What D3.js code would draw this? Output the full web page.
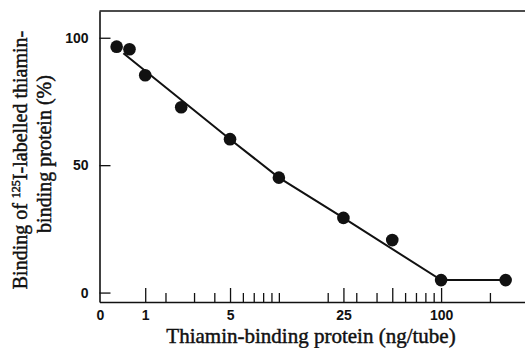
<!DOCTYPE html>
<html>
<head>
<meta charset="utf-8">
<script src="https://cdn.jsdelivr.net/npm/d3@7"></script>
<style>
  body { margin: 0; background: #fff; }
  svg { display: block; }
  .tick text { font-family: "Liberation Sans", Arial, sans-serif; font-weight: bold; font-size: 14px; fill: #111; }
  .title { font-family: "Liberation Serif", "Times New Roman", serif; fill: #111; stroke: #111; stroke-width: 0.45px; }
</style>
</head>
<body>
<svg id="chart" width="525" height="348"></svg>
<script>
// Standard curve: binding of 125I-labelled thiamin-binding protein vs. amount of protein
const doses   = [1.0, 1.2, 1.5, 2.5, 5, 10, 25, 50, 100, 250];          // ng/tube
const binding = [96.5, 95.5, 85.3, 72.7, 60.2, 45.1, 29.3, 20.6, 4.9, 4.9]; // %

// Drawn curve through the points
const fitDoses   = [1.1, 5, 10, 25, 100, 250];
const fitBinding = [93.9, 60.2, 45.1, 29.3, 4.9, 4.9];

// Axis ticks
const yTicks = [0, 50, 100];
const xOriginLabel = "0";
const xLabelValues = [1.5, 5, 25, 100];
const xLabelText = ["1", "5", "25", "100"];
const xMajorTicks = [1.5, 5, 25, 50, 100];
const xMinorTicks = [2, 3, 4, 6, 7, 8, 9, 10, 20, 30, 40, 60, 70, 80, 90, 200];

const svg = d3.select("#chart");
const frame = { left: 99.5, right: 525, top: 11, bottom: 302 };

const x = d3.scaleLog().domain([0.784, 329]).range([frame.left, frame.right]);
const y = d3.scaleLinear().domain([-3.7, 110.5]).range([frame.bottom, frame.top]);

// top border
svg.append("line")
  .attr("x1", frame.left).attr("x2", frame.right)
  .attr("y1", frame.top).attr("y2", frame.top)
  .attr("stroke", "#111").attr("stroke-width", 1.6);

// x axis: minor ticks first (no labels), then labelled/major ticks
const gxMinor = svg.append("g")
  .attr("transform", `translate(0,${frame.bottom})`)
  .call(d3.axisBottom(x).tickValues(xMinorTicks).tickSizeInner(-9).tickSizeOuter(0).tickFormat(() => ""));
gxMinor.select(".domain").remove();

const labelFor = d => {
  const i = xLabelValues.indexOf(d);
  return i >= 0 ? xLabelText[i] : "";
};
const gx = svg.append("g")
  .attr("transform", `translate(0,${frame.bottom})`)
  .call(d3.axisBottom(x).tickValues(xMajorTicks).tickSizeInner(-14).tickSizeOuter(0).tickPadding(8).tickFormat(labelFor));

// origin label at the left end of the x axis
gx.append("g").attr("class", "tick")
  .attr("transform", `translate(${x.range()[0] + 1},0)`)
  .append("text").attr("y", 8).attr("dy", "0.71em").attr("text-anchor", "middle").text(xOriginLabel);

// y axis
const gy = svg.append("g")
  .attr("transform", `translate(${frame.left},0)`)
  .call(d3.axisLeft(y).tickValues(yTicks).tickSizeInner(-11).tickSizeOuter(0).tickPadding(11).tickFormat(d3.format("d")));

svg.selectAll(".domain").attr("stroke", "#111").attr("stroke-width", 1.6);
svg.selectAll(".tick line").attr("stroke", "#111").attr("stroke-width", 1.3);

// curve
const line = d3.line().x(d => x(d[0])).y(d => y(d[1]));
svg.append("path")
  .datum(d3.zip(fitDoses, fitBinding))
  .attr("d", line)
  .attr("fill", "none").attr("stroke", "#111").attr("stroke-width", 2);

// data points
svg.append("g").selectAll("circle")
  .data(d3.zip(doses, binding))
  .join("circle")
  .attr("cx", d => x(d[0])).attr("cy", d => y(d[1]))
  .attr("r", 6.3).attr("fill", "#111");

// x axis title
svg.append("text").attr("class", "title")
  .attr("x", 311).attr("y", 342.5)
  .attr("text-anchor", "middle")
  .attr("font-size", 21)
  .text("Thiamin-binding protein (ng/tube)");

// y axis title (two lines)
const yt = svg.append("g").attr("transform", "translate(0,157) rotate(-90)");
const l1 = yt.append("text").attr("class", "title")
  .attr("x", -3).attr("y", 27).attr("text-anchor", "middle").attr("font-size", 20);
l1.append("tspan").text("Binding of ");
l1.append("tspan").attr("font-size", 12).attr("dy", -7).text("125");
l1.append("tspan").attr("dy", 7).text("I-labelled thiamin-");
yt.append("text").attr("class", "title")
  .attr("x", 3).attr("y", 50.5).attr("text-anchor", "middle").attr("font-size", 20)
  .text("binding protein (%)");
</script>
</body>
</html>
